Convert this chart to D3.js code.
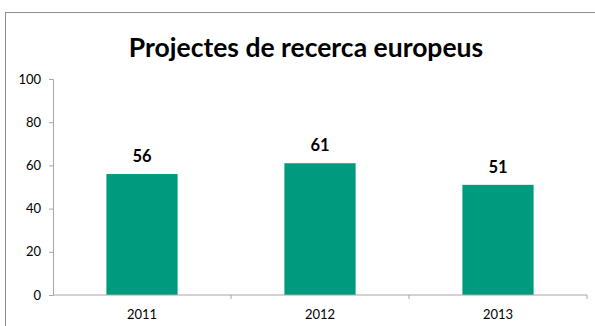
<!DOCTYPE html>
<html>
<head>
<meta charset="utf-8">
<script src="https://cdn.jsdelivr.net/npm/d3@7"></script>
<style>
  html, body { margin: 0; padding: 0; background: #fff; }
  svg { display: block; font-family: Lato, "Open Sans", sans-serif; }
</style>
</head>
<body>
<svg id="chart" width="595" height="326"></svg>
<script>
// Projectes de recerca europeus, per year
const years = ["2011", "2012", "2013"];
const projects = [56, 61, 51];
const yTicks = [0, 20, 40, 60, 80, 100];
const title = "Projectes de recerca europeus";

const svg = d3.select("#chart");
const W = 595, H = 326;
const margin = { left: 53, right: 8, top: 79, bottom: 31 };

// Outer chart frame
svg.append("rect")
  .attr("x", 5.5).attr("y", 12.5)
  .attr("width", W + 10).attr("height", H + 10)
  .attr("fill", "none").attr("stroke", "#8c8c8c").attr("stroke-width", 1);

svg.append("text")
  .attr("x", 306).attr("y", 57)
  .attr("text-anchor", "middle")
  .attr("font-size", 26.5).attr("font-weight", "bold")
  .attr("fill", "#000")
  .text(title);

const xBand = d3.scaleBand()
  .domain(years)
  .range([margin.left, W - margin.right]);

const y = d3.scaleLinear()
  .domain([0, 100])
  .range([H - margin.bottom, margin.top]);

// Bars
svg.append("g").selectAll("rect")
  .data(years)
  .join("rect")
  .attr("x", (d) => xBand(d) + xBand.bandwidth() * 0.3)
  .attr("width", xBand.bandwidth() * 0.4)
  .attr("y", (d, i) => y(projects[i]))
  .attr("height", (d, i) => y(0) - y(projects[i]))
  .attr("fill", "#009b7f");

// Value labels
svg.append("g").selectAll("text")
  .data(years)
  .join("text")
  .attr("x", (d) => xBand(d) + xBand.bandwidth() / 2)
  .attr("y", (d, i) => y(projects[i]) - 12)
  .attr("text-anchor", "middle")
  .attr("font-size", 16.5).attr("font-weight", "bold")
  .attr("fill", "#000")
  .text((d, i) => projects[i]);

// Y axis
const yAxis = svg.append("g")
  .attr("transform", `translate(${margin.left},0)`)
  .call(d3.axisLeft(y).tickValues(yTicks).tickSize(4).tickPadding(8));
yAxis.select(".domain").attr("stroke", "#a6a6a6");
yAxis.selectAll(".tick line").attr("stroke", "#a6a6a6");
yAxis.selectAll(".tick text")
  .attr("font-size", 13).attr("font-family", "Lato, sans-serif").attr("fill", "#000");

// X axis: ticks sit on the band boundaries
const xAxisG = svg.append("g")
  .attr("transform", `translate(0,${y(0)})`);
xAxisG.append("line")
  .attr("x1", margin.left).attr("x2", W - margin.right)
  .attr("stroke", "#a6a6a6");
const bounds = years.map((d) => xBand(d)).concat([xBand(years[years.length - 1]) + xBand.bandwidth()]);
xAxisG.selectAll("line.tk")
  .data(bounds.slice(1))
  .join("line").attr("class", "tk")
  .attr("x1", (d) => d).attr("x2", (d) => d)
  .attr("y1", 0).attr("y2", 4)
  .attr("stroke", "#a6a6a6");
xAxisG.selectAll("text")
  .data(years)
  .join("text")
  .attr("x", (d) => xBand(d) + xBand.bandwidth() / 2)
  .attr("y", 24)
  .attr("text-anchor", "middle")
  .attr("font-size", 13).attr("fill", "#000")
  .text((d) => d);
</script>
</body>
</html>
